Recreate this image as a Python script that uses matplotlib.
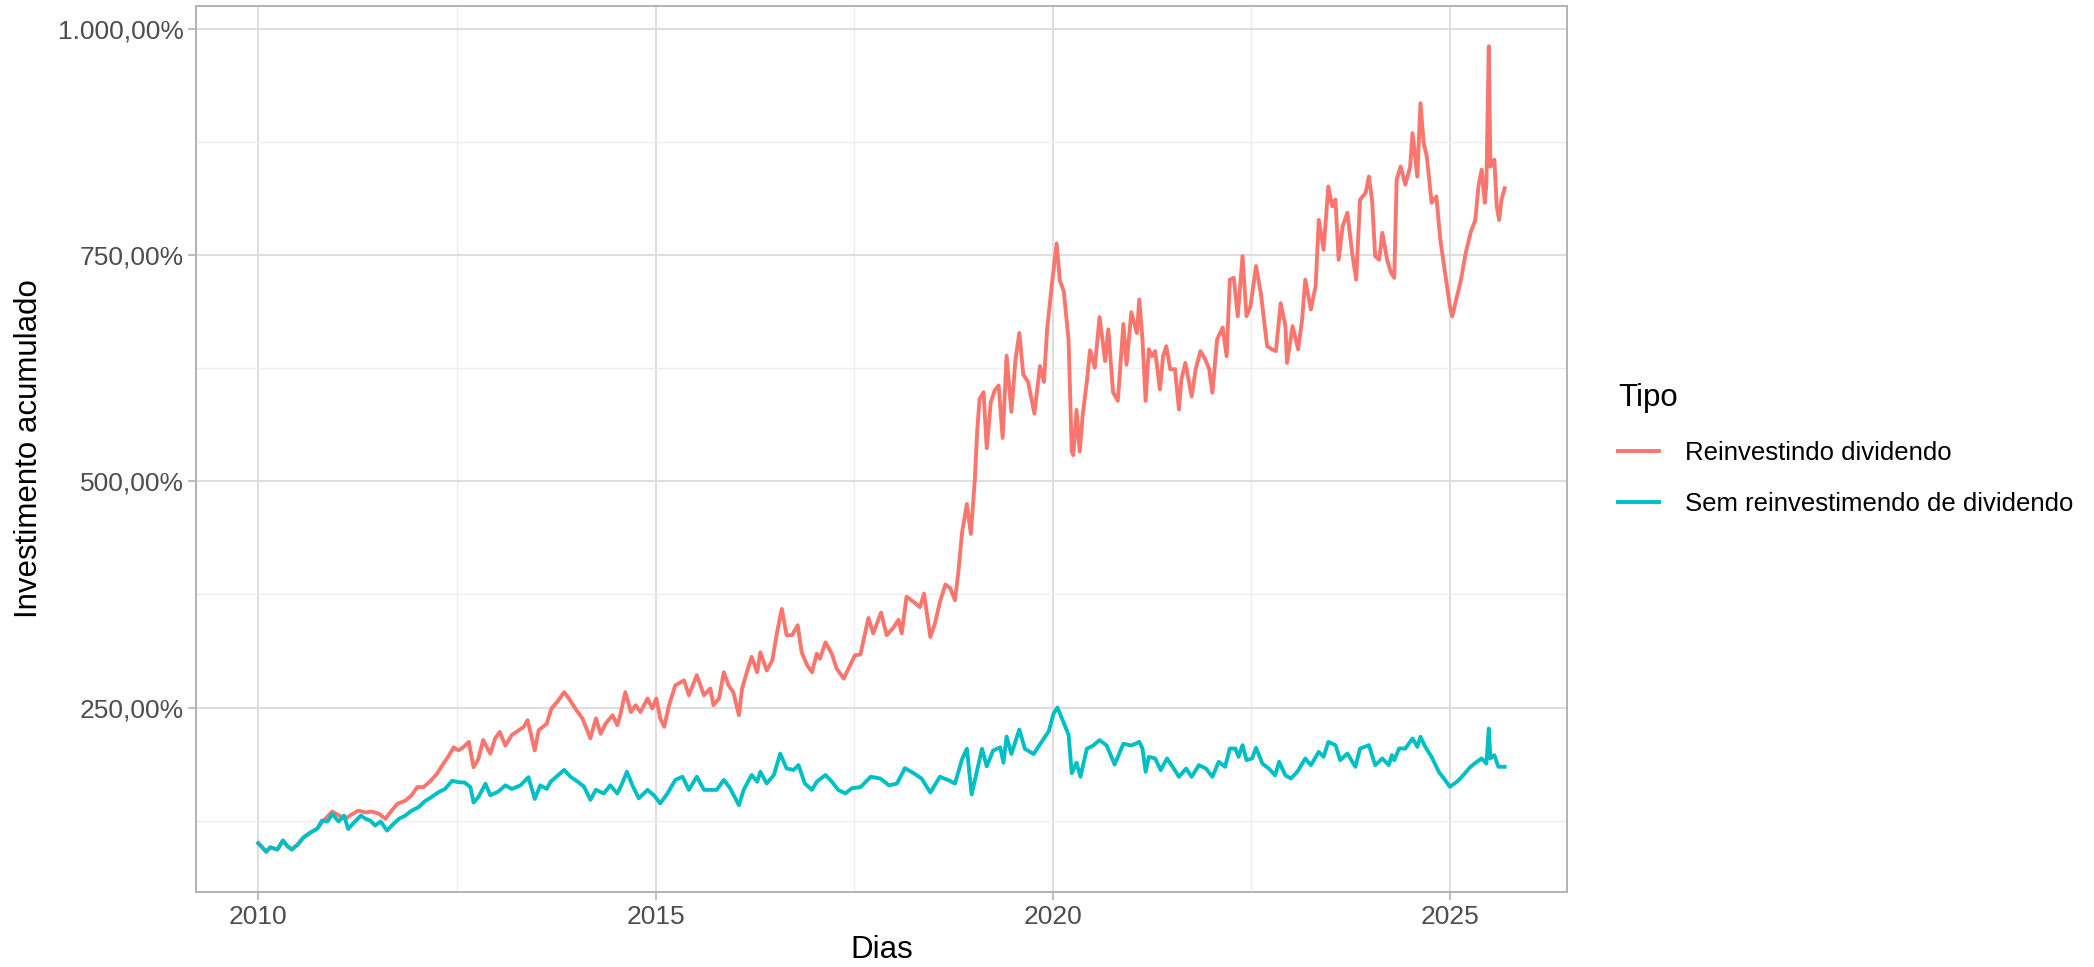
import numpy as np
import matplotlib
matplotlib.use("Agg")
import matplotlib.pyplot as plt
import matplotlib.ticker as mticker

# --dados (ano decimal, investimento acumulado em %)
reinv_anos = [
    2010.00, 2010.10, 2010.15, 2010.24, 2010.31, 2010.36, 2010.42, 2010.49, 2010.57, 2010.66,
    2010.74, 2010.80, 2010.93, 2011.01, 2011.10, 2011.16, 2011.26, 2011.35, 2011.43, 2011.52,
    2011.60, 2011.66, 2011.75, 2011.85, 2011.93, 2012.00, 2012.08, 2012.17, 2012.25, 2012.33,
    2012.40, 2012.46, 2012.52, 2012.58, 2012.65, 2012.71, 2012.77, 2012.83, 2012.92, 2012.98,
    2013.04, 2013.11, 2013.19, 2013.28, 2013.34, 2013.39, 2013.48, 2013.53, 2013.63, 2013.69,
    2013.76, 2013.85, 2013.91, 2013.99, 2014.08, 2014.18, 2014.25, 2014.31, 2014.37, 2014.46,
    2014.52, 2014.56, 2014.62, 2014.69, 2014.75, 2014.81, 2014.90, 2014.96, 2015.01, 2015.06,
    2015.11, 2015.17, 2015.25, 2015.36, 2015.42, 2015.52, 2015.61, 2015.69, 2015.73, 2015.80,
    2015.86, 2015.92, 2015.98, 2016.05, 2016.09, 2016.15, 2016.21, 2016.28, 2016.32, 2016.40,
    2016.47, 2016.53, 2016.59, 2016.65, 2016.72, 2016.79, 2016.84, 2016.91, 2016.97, 2017.03,
    2017.07, 2017.14, 2017.22, 2017.28, 2017.37, 2017.43, 2017.51, 2017.58, 2017.68, 2017.74,
    2017.84, 2017.91, 2017.99, 2018.06, 2018.10, 2018.16, 2018.25, 2018.33, 2018.38, 2018.46,
    2018.52, 2018.58, 2018.65, 2018.71, 2018.77, 2018.81, 2018.86, 2018.92, 2018.97, 2019.02,
    2019.05, 2019.08, 2019.13, 2019.17, 2019.22, 2019.27, 2019.32, 2019.37, 2019.42, 2019.48,
    2019.53, 2019.58, 2019.63, 2019.69, 2019.77, 2019.84, 2019.89, 2019.93, 2019.99, 2020.05,
    2020.09, 2020.14, 2020.20, 2020.24, 2020.26, 2020.30, 2020.34, 2020.38, 2020.43, 2020.47,
    2020.53, 2020.59, 2020.66, 2020.70, 2020.76, 2020.82, 2020.89, 2020.93, 2020.99, 2021.06,
    2021.09, 2021.13, 2021.17, 2021.21, 2021.25, 2021.29, 2021.35, 2021.39, 2021.43, 2021.48,
    2021.54, 2021.59, 2021.62, 2021.67, 2021.75, 2021.80, 2021.86, 2021.92, 2021.97, 2022.01,
    2022.07, 2022.14, 2022.19, 2022.23, 2022.28, 2022.33, 2022.39, 2022.44, 2022.49, 2022.56,
    2022.62, 2022.70, 2022.76, 2022.81, 2022.87, 2022.93, 2022.95, 2023.02, 2023.09, 2023.14,
    2023.18, 2023.25, 2023.31, 2023.35, 2023.41, 2023.47, 2023.52, 2023.56, 2023.60, 2023.65,
    2023.71, 2023.77, 2023.82, 2023.87, 2023.94, 2023.98, 2024.02, 2024.06, 2024.11, 2024.15,
    2024.21, 2024.26, 2024.30, 2024.33, 2024.38, 2024.44, 2024.50, 2024.53, 2024.59, 2024.63,
    2024.67, 2024.71, 2024.77, 2024.83, 2024.88, 2024.94, 2025.00, 2025.03, 2025.09, 2025.14,
    2025.20, 2025.26, 2025.32, 2025.36, 2025.40, 2025.44, 2025.46, 2025.49, 2025.51, 2025.56,
    2025.59, 2025.62, 2025.65, 2025.69,
]
reinv_valores = [
    100, 90.6, 95.5, 93, 103, 97.3, 93, 98, 106.5, 112,
    116, 123, 135, 131, 127, 131, 136, 134, 135, 132.5,
    127, 134, 143.5, 147, 153, 162, 162, 169, 177, 188,
    197, 206, 202.7, 206, 212, 184, 193, 214, 199, 215.7,
    223, 208, 219.5, 225, 228.5, 236, 202.7, 225, 232, 249,
    256, 267, 260, 249, 238, 216, 238, 221, 232, 241.5,
    230.5, 243, 267, 245, 252.5, 245, 260, 249, 260, 238,
    228.7, 252.5, 274.6, 280, 263.6, 285.7, 263.6, 271, 252.6, 260,
    289, 274.6, 267, 241.5, 271, 289, 306, 289, 311, 291,
    302, 333, 359, 330, 330, 341, 311, 296.7, 289, 309.5,
    304, 322, 309.5, 293, 282, 293, 307.7, 308.7, 349, 332,
    355, 330, 337.7, 347, 332, 372.5, 366.7, 361, 376, 328,
    343.5, 366.7, 386, 382, 368.6, 397.6, 444, 475, 442, 502,
    556, 591, 598.5, 536.7, 587, 600.5, 606, 548, 639, 577,
    633, 664, 618, 610, 575, 627.5, 610, 668, 718, 763,
    722, 710, 656.5, 533, 529, 579, 533, 575, 610, 645,
    625.6, 681.6, 633, 668, 598.5, 589, 674, 629, 687, 664,
    701, 657, 589, 646, 638.4, 644, 601.6, 638.4, 649.5, 624,
    624, 579.5, 612.7, 631, 594, 624, 644, 635, 624, 598,
    657, 670, 638.4, 723, 725, 682.6, 749, 682.6, 693.7, 738,
    708, 649.5, 646, 644, 697, 671.6, 631, 671.6, 646, 679,
    723, 690, 716, 789, 756, 826, 804, 811.5, 745, 782,
    797, 752.6, 723, 811.5, 819, 837, 811.5, 749, 745, 774.7,
    745, 730.5, 725, 833.6, 848, 828, 848, 885, 837, 918,
    874, 859, 808, 815, 767, 730.5, 693.7, 682.6, 704.7, 723,
    752.6, 774.7, 789, 826, 844.6, 808, 830, 981, 848, 855.7,
    804, 789, 811.5, 824,
]

sem_anos = [
    2010.00, 2010.10, 2010.15, 2010.24, 2010.31, 2010.36, 2010.42, 2010.49, 2010.57, 2010.66,
    2010.74, 2010.80, 2010.87, 2010.93, 2011.01, 2011.08, 2011.13, 2011.20, 2011.29, 2011.35,
    2011.41, 2011.47, 2011.54, 2011.62, 2011.68, 2011.77, 2011.85, 2011.93, 2012.02, 2012.09,
    2012.18, 2012.27, 2012.35, 2012.44, 2012.52, 2012.60, 2012.67, 2012.71, 2012.77, 2012.86,
    2012.92, 2013.02, 2013.11, 2013.19, 2013.30, 2013.40, 2013.48, 2013.55, 2013.63, 2013.68,
    2013.85, 2013.93, 2014.02, 2014.10, 2014.18, 2014.25, 2014.35, 2014.43, 2014.52, 2014.58,
    2014.64, 2014.71, 2014.79, 2014.90, 2014.98, 2015.06, 2015.15, 2015.25, 2015.34, 2015.42,
    2015.52, 2015.61, 2015.69, 2015.77, 2015.86, 2015.94, 2016.05, 2016.11, 2016.21, 2016.28,
    2016.32, 2016.40, 2016.49, 2016.57, 2016.65, 2016.74, 2016.80, 2016.88, 2016.97, 2017.03,
    2017.14, 2017.22, 2017.30, 2017.39, 2017.47, 2017.58, 2017.71, 2017.83, 2017.94, 2018.04,
    2018.14, 2018.25, 2018.35, 2018.46, 2018.58, 2018.69, 2018.77, 2018.86, 2018.92, 2018.98,
    2019.05, 2019.11, 2019.17, 2019.25, 2019.34, 2019.38, 2019.42, 2019.48, 2019.58, 2019.65,
    2019.76, 2019.86, 2019.95, 2020.01, 2020.06, 2020.13, 2020.20, 2020.24, 2020.30, 2020.35,
    2020.43, 2020.51, 2020.59, 2020.68, 2020.78, 2020.89, 2020.99, 2021.09, 2021.13, 2021.17,
    2021.21, 2021.29, 2021.36, 2021.44, 2021.51, 2021.59, 2021.68, 2021.75, 2021.84, 2021.93,
    2022.01, 2022.09, 2022.17, 2022.23, 2022.30, 2022.34, 2022.39, 2022.44, 2022.51, 2022.56,
    2022.64, 2022.72, 2022.80, 2022.85, 2022.93, 2023.00, 2023.08, 2023.18, 2023.25, 2023.35,
    2023.41, 2023.47, 2023.56, 2023.62, 2023.71, 2023.81, 2023.87, 2023.98, 2024.06, 2024.15,
    2024.23, 2024.27, 2024.30, 2024.36, 2024.44, 2024.53, 2024.59, 2024.63, 2024.69, 2024.77,
    2024.86, 2024.94, 2025.00, 2025.09, 2025.17, 2025.26, 2025.34, 2025.40, 2025.46, 2025.49,
    2025.51, 2025.56, 2025.61, 2025.69,
]
sem_valores = [
    100, 90.6, 95.5, 93, 103, 97.3, 93, 98, 106.5, 112,
    115.8, 125, 124, 132.4, 124, 130.5, 115.8, 122.4, 130.5, 127,
    125, 119.5, 124, 114, 119.5, 127, 130.5, 136, 140, 146,
    151, 156.5, 160, 169, 167.5, 167, 162, 145, 151, 165.7,
    153, 157, 164, 160, 164, 173, 149, 164, 160, 168,
    181, 173.5, 168, 162.5, 148, 159, 155, 164, 155, 166,
    179, 164, 149.6, 159, 153, 144, 155, 170, 173.5, 159,
    173.5, 159, 159, 159, 170, 160.7, 142, 159, 175.4, 168,
    179, 166, 175.4, 199, 182.7, 181, 186.4, 166, 159, 168,
    175.4, 168, 159, 155, 160.7, 162, 173.5, 171.5, 164, 166,
    183, 177.4, 171.5, 156, 173.5, 169.6, 166, 193, 204.4, 154,
    181, 204.4, 185, 202.5, 206, 189, 218, 198.6, 225.7, 204.4,
    198.6, 212, 223.7, 243, 250, 235, 220, 177.4, 189, 173.5,
    204.4, 208, 214, 208, 187, 210, 208, 212, 204.7, 179,
    195.5, 193.7, 180.8, 193.7, 184.5, 173.4, 182.6, 173.4, 186.3, 182.6,
    173.4, 190, 184.5, 204.7, 204.7, 195.5, 208.4, 191.8, 193.7, 205.5,
    188, 182.6, 175, 190, 175, 171.6, 179, 193.7, 186.3, 201,
    195.5, 212, 208.4, 191.8, 199.2, 184.5, 204.7, 208.4, 186.3, 193.7,
    186.3, 197.4, 191.8, 204.7, 204.7, 215.8, 206.6, 217.6, 206.6, 195.5,
    179, 169.8, 162.4, 168, 175.3, 184.5, 190, 193.7, 188, 226.8,
    193.7, 197.4, 184.5, 184.5,
]

series = ["Reinvestindo dividendo", "Sem reinvestimendo de dividendo"]
x_breaks = [2010, 2015, 2020, 2025]
y_breaks = [250, 500, 750, 1000]


def fmt_pct(v, pos=None):
    s = f"{v:,.2f}%"
    return s.replace(",", "X").replace(".", ",").replace("X", ".")


plt.rcParams['font.family'] = ['Liberation Sans', 'DejaVu Sans']

W, H = 2094, 967
fig = plt.figure(figsize=(W / 100, H / 100), dpi=100)
ax = fig.add_axes([196 / W, 1 - 892 / H, (1567 - 196) / W, (892 - 6) / H])

ax.plot(reinv_anos, reinv_valores, color='#F8766D', lw=2.8, label=series[0], zorder=3)
ax.plot(sem_anos, sem_valores, color='#00BFC4', lw=2.8, label=series[1], zorder=3)
ax.margins(x=0.05, y=0.05)

# --grade estilo theme_light
ax.set_xticks(x_breaks)
ax.set_xticks([2012.5, 2017.5, 2022.5], minor=True)
ax.set_yticks(y_breaks)
ax.set_yticks([125, 375, 625, 875], minor=True)
ax.yaxis.set_major_formatter(mticker.FuncFormatter(fmt_pct))
ax.grid(which='major', color='#DEDEDE', lw=1.4, zorder=0)
ax.grid(which='minor', color='#EDEDED', lw=1.0, zorder=0)
ax.tick_params(which='major', color='#B3B3B3', length=6, width=1.2, pad=3,
               labelsize=19, labelcolor='#4D4D4D')
ax.tick_params(which='minor', length=0)
for sp in ax.spines.values():
    sp.set_color('#B3B3B3')
    sp.set_linewidth(1.4)

ax.set_xlabel("Dias", fontsize=22.5, color='black')
ax.set_ylabel("Investimento acumulado", fontsize=22.5, color='black')
ax.xaxis.set_label_coords(0.5, -0.065)
ax.xaxis.label.set_va('center')
ax.yaxis.set_label_coords(-0.122, 0.5)
ax.yaxis.label.set_va('center')

leg = fig.legend(loc='upper left', bbox_to_anchor=(1595 / W, 1 - 360 / H),
                 frameon=False, title="Tipo", fontsize=18.5, title_fontsize=22.5,
                 handlelength=1.6, handletextpad=1.0, labelspacing=1.07,
                 alignment='left')
for line in leg.get_lines():
    line.set_linewidth(2.8)

fig.savefig("out.png", dpi=100, facecolor='white')
